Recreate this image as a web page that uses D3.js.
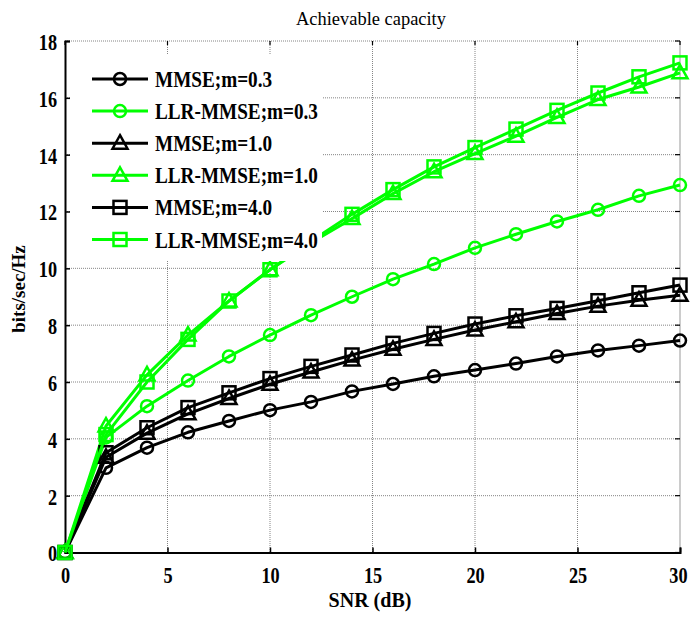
<!DOCTYPE html>
<html><head><meta charset="utf-8">
<script src="https://cdn.jsdelivr.net/npm/d3@7"></script>
<style>body{margin:0;background:#fff}svg{display:block}</style>
</head><body>
<svg id="c" width="691" height="617"></svg>
<script>
const snr = [0,2,4,6,8,10,12,14,16,18,20,22,24,26,28,30];
const mmse03 = [0,2.98,3.69,4.23,4.63,5.01,5.30,5.67,5.93,6.20,6.42,6.65,6.90,7.11,7.28,7.46];
const llr03  = [0,4.05,5.15,6.05,6.90,7.65,8.35,9.00,9.62,10.15,10.72,11.20,11.65,12.06,12.55,12.93];
const mmse10 = [0,3.35,4.20,4.88,5.42,5.92,6.35,6.77,7.15,7.50,7.83,8.12,8.41,8.67,8.88,9.05];
const llr10  = [0,4.45,6.25,7.65,8.85,9.95,10.90,11.75,12.63,13.40,14.04,14.65,15.31,15.94,16.38,16.88];
const mmse40 = [0,3.51,4.39,5.10,5.62,6.12,6.55,6.95,7.36,7.71,8.04,8.33,8.59,8.86,9.14,9.41];
const llr40  = [0,4.15,6.00,7.50,8.85,9.95,10.95,11.90,12.77,13.57,14.25,14.90,15.56,16.17,16.74,17.23];
const seriesNames = ["MMSE;m=0.3","LLR-MMSE;m=0.3","MMSE;m=1.0","LLR-MMSE;m=1.0","MMSE;m=4.0","LLR-MMSE;m=4.0"];
const seriesValues = [mmse03, llr03, mmse10, llr10, mmse40, llr40];
const seriesColors = ["#000000","#00ff00","#000000","#00ff00","#000000","#00ff00"];
const seriesMarkers = ["circle","circle","triangle","triangle","square","square"];
const xTicks = [0,5,10,15,20,25,30];
const yTicks = [0,2,4,6,8,10,12,14,16,18];
const titleText = "Achievable capacity";
const xLabel = "SNR (dB)";
const yLabel = "bits/sec/Hz";

const svg = d3.select("#c");
const L = 65, R = 680, T = 41, B = 552.5;
const x = d3.scaleLinear().domain([0,30]).range([L,R]);
const y = d3.scaleLinear().domain([0,18]).range([B,T]);
const serif = "'Liberation Serif','Times New Roman',serif";

function squeeze(sel, f){
  sel.each(function(){ const w=this.getComputedTextLength(); this.setAttribute("textLength", w*f); this.setAttribute("lengthAdjust","spacingAndGlyphs"); });
}

const g = svg.append("g");
g.selectAll(".vg").data(xTicks.filter(d=>d>0&&d<30)).join("line")
  .attr("x1",d=>x(d)).attr("x2",d=>x(d)).attr("y1",T).attr("y2",B)
  .attr("stroke","#666").attr("stroke-width",0.8).attr("stroke-dasharray","1,1");
g.selectAll(".hg").data(yTicks.filter(d=>d>0)).join("line")
  .attr("x1",L).attr("x2",R).attr("y1",d=>y(d)).attr("y2",d=>y(d))
  .attr("stroke","#666").attr("stroke-width",0.8).attr("stroke-dasharray","1,1");
svg.append("line").attr("x1",R).attr("x2",R).attr("y1",T).attr("y2",B).attr("stroke","#999").attr("stroke-width",1);

const xAxis = svg.append("g").attr("transform",`translate(0,${B})`)
  .call(d3.axisBottom(x).tickValues(xTicks).tickSize(-5).tickPadding(9).tickFormat(d3.format("d")));
const yAxis = svg.append("g").attr("transform",`translate(${L},0)`)
  .call(d3.axisLeft(y).tickValues(yTicks).tickSize(-5).tickPadding(8).tickFormat(d3.format("d")));
[xAxis,yAxis].forEach(a=>{
  a.select(".domain").attr("stroke","#000").attr("stroke-width",2);
  a.selectAll(".tick line").attr("stroke","#000").attr("stroke-width",1.5);
  a.selectAll(".tick text").attr("font-family",serif).attr("font-weight","bold").attr("font-size",24).attr("fill","#000");
});
xAxis.selectAll(".tick text").attr("dy","0.9em").call(squeeze,0.76);
xAxis.selectAll(".tick text").filter(d=>d===30).attr("text-anchor","end").attr("x",7);
yAxis.selectAll(".tick text").attr("dy","0.35em").call(squeeze,0.76);
svg.selectAll(".rt").data(yTicks).join("line")
  .attr("x1",R).attr("x2",R-5).attr("y1",d=>y(d)).attr("y2",d=>y(d)).attr("stroke","#000").attr("stroke-width",1.2);
svg.selectAll(".tt").data(xTicks).join("line")
  .attr("x1",d=>x(d)).attr("x2",d=>x(d)).attr("y1",T).attr("y2",T+4).attr("stroke","#000").attr("stroke-width",1.2);

function marker(sel, type, color){
  if(type==="circle") sel.append("circle").attr("r",6).attr("fill","none").attr("stroke",color).attr("stroke-width",2.5);
  else if(type==="square") sel.append("rect").attr("x",-6.5).attr("y",-6.5).attr("width",13).attr("height",13).attr("fill","none").attr("stroke",color).attr("stroke-width",2.5);
  else sel.append("path").attr("d","M0,-8L7.5,5.5L-7.5,5.5Z").attr("fill","none").attr("stroke",color).attr("stroke-width",2.5);
}

const line = d3.line().x((d,i)=>x(snr[i])).y(d=>y(d));
seriesValues.forEach((vals,k)=>{
  const s = svg.append("g");
  s.append("path").datum(vals).attr("d",line).attr("fill","none").attr("stroke",seriesColors[k]).attr("stroke-width",3).attr("stroke-linejoin","round");
  vals.forEach((v,i)=>{
    const m = s.append("g").attr("transform",`translate(${x(snr[i])},${y(v)})`);
    marker(m, seriesMarkers[k], seriesColors[k]);
  });
});

const lg = svg.append("g");
lg.append("rect").attr("x",70).attr("y",55).attr("width",252).attr("height",206).attr("fill","#fff");
seriesNames.forEach((n,k)=>{
  const yy = 79 + k*32.1;
  lg.append("line").attr("x1",92).attr("x2",148).attr("y1",yy).attr("y2",yy).attr("stroke",seriesColors[k]).attr("stroke-width",3);
  const m = lg.append("g").attr("transform",`translate(120,${yy})`);
  marker(m, seriesMarkers[k], seriesColors[k]);
  lg.append("text").attr("x",155).attr("y",yy+8).attr("font-family",serif).attr("font-weight","bold").attr("font-size",23).text(n).call(squeeze,0.835);
});

svg.append("text").attr("x",371).attr("y",25).attr("text-anchor","middle").attr("font-family",serif).attr("font-size",19).text(titleText).call(squeeze,0.97);
svg.append("text").attr("x",370).attr("y",607).attr("text-anchor","middle").attr("font-family",serif).attr("font-weight","bold").attr("font-size",20).text(xLabel);
svg.append("text").attr("transform","translate(25,289) rotate(-90)").attr("text-anchor","middle").attr("font-family",serif).attr("font-weight","bold").attr("font-size",19).text(yLabel);
</script>
</body></html>
